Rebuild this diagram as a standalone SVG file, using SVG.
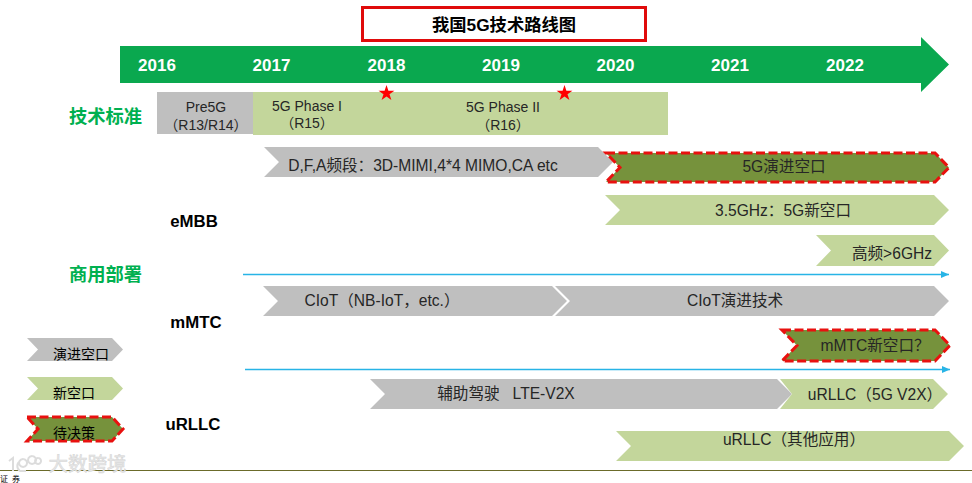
<svg xmlns="http://www.w3.org/2000/svg" width="972" height="483" viewBox="0 0 972 483">
<style>
text{font-family:"Liberation Sans","Noto Sans CJK SC",sans-serif;font-size:15.6px;fill:#262626;text-anchor:middle}
.gray{fill:#bfbfbf}.green{fill:#c3d69b}
.dash{fill:#76923c;stroke:#e8110f;stroke-width:3;stroke-dasharray:9 3.500}
.b{font-weight:bold;fill:#000;font-size:16.800px}
.yr{font-weight:bold;fill:#fff;font-size:17px}
.cat{font-weight:bold;fill:#00b050;font-size:18.300px}
.s{font-size:14px}
.lg{font-size:14px;fill:#000}
.blue{fill:none;stroke:#28b4e6;stroke-width:1.5;marker-end:url(#ah)}
.wm{fill:none;stroke:#dcdcdc;stroke-width:2}
</style>
<defs><marker id="ah" markerUnits="userSpaceOnUse" markerWidth="8" markerHeight="7" refX="8" refY="3.5" orient="auto"><path d="M0 0L8 3.5L0 7Z" fill="#28b4e6"/></marker></defs>
<rect width="972" height="483" fill="#fff"/>
<g id="timeline">
<path d="M120 46H921V37L949 64.500L921 92V83H120Z" fill="#0aa84f"/>
<text class="yr" x="157" y="71">2016</text><text class="yr" x="271.500" y="71">2017</text><text class="yr" x="386.500" y="71">2018</text><text class="yr" x="501" y="71">2019</text><text class="yr" x="615.500" y="71">2020</text><text class="yr" x="730" y="71">2021</text><text class="yr" x="845" y="71">2022</text>
</g>
<g id="title"><rect x="362.500" y="7.500" width="283" height="33" fill="#fff" stroke="#e00b0b" stroke-width="3"/><text class="b" x="504" y="31" style="font-size:17.300px">我国5G技术路线图</text></g>
<g id="standards">
<text class="cat" x="105.500" y="123">技术标准</text>
<rect x="157" y="92" width="96" height="42" class="gray"/><text class="s" x="206" y="112">Pre5G</text><text class="s" x="206" y="130">（R13/R14）</text>
<rect x="253" y="92" width="415" height="43" class="green"/><text class="s" x="307" y="111">5G Phase I</text><text class="s" x="307" y="128">（R15）</text>
<text class="s" x="503" y="112">5G Phase II</text><text class="s" x="503" y="130">（R16）</text>
<path id="star1" d="M386.500 85l1.900 5.700h6l-4.900 3.500 1.900 5.700-4.900-3.500-4.900 3.500 1.900-5.700-4.900-3.500h6Z" fill="#f00"/>
<path id="star2" d="M564.500 85l1.900 5.700h6l-4.900 3.500 1.900 5.700-4.900-3.500-4.900 3.500 1.900-5.700-4.900-3.500h6Z" fill="#f00"/>
</g>
<g id="labels">
<text class="cat" x="105.500" y="281">商用部署</text>
<text class="b" x="194" y="227">eMBB</text><text class="b" x="196" y="328">mMTC</text><text class="b" x="193" y="430">uRLLC</text>
</g>
<g id="connectors"><path class="blue" d="M243 274.500H949"/><path class="blue" d="M245 369.500H950"/></g>
<g id="n1"><path class="gray" d="M264 147H598L613 162L598 177H264L279 162Z"/><text x="423" y="171">D,F,A频段：3D-MIMI,4*4 MIMO,CA etc</text></g>
<g id="n2"><path class="dash" d="M606 153H935L949 167.500L935 182H606L620 167.500Z"/><text x="784" y="172">5G演进空口</text></g>
<g id="n3"><path class="green" d="M605 195H934L949 210L934 225H605L620 210Z"/><text x="783" y="216">3.5GHz：5G新空口</text></g>
<g id="n4"><path class="green" d="M816 235H934L949 250.500L934 266H816L831 250.500Z"/><text x="892" y="259">高频&gt;6GHz</text></g>
<g id="n5"><path class="gray" d="M263 286H552L567 301L552 316H263L278 301Z"/><text x="382" y="306">CIoT（NB-IoT，etc.）</text></g>
<g id="n6"><path class="gray" d="M555 286H934L949 301L934 316H555L570 301Z"/><text x="735" y="306">CIoT演进技术</text></g>
<g id="n7"><path class="dash" d="M782 330H935L950 345.500L935 361H782L797 345.500Z"/><text x="875" y="351">mMTC新空口？</text></g>
<g id="n8"><path class="gray" d="M370 379H777L792 394L777 409H370L385 394Z"/><text x="506" y="399" xml:space="preserve">辅助驾驶   LTE-V2X</text></g>
<g id="n9"><path class="green" d="M780 379H933L948 394L933 409H780L792 394Z"/><text x="875" y="400">uRLLC（5G V2X）</text></g>
<g id="n10"><path class="green" d="M616 431H949L964 446L949 461H616L631 446Z"/><text x="794" y="445">uRLLC（其他应用）</text></g>
<g id="legend1"><path class="gray" d="M27 338H112L123 349.500L112 361H27L38 349.500Z"/><text class="lg" x="81" y="359">演进空口</text></g>
<g id="legend2"><path class="green" d="M27 377H112L123 388.500L112 400H27L38 388.500Z"/><text class="lg" x="74" y="398">新空口</text></g>
<g id="legend3"><path class="dash" d="M27 417H112L123 429L112 441H27L38 429Z"/><text class="lg" x="74" y="438">待决策</text></g>
<g id="footer">
<path d="M0 470.500H972" stroke="#6b6b2a" stroke-width="1"/>
<path class="wm" d="M9 461l4-3v13M20 461a6 6 0 0 0 0 10h6M23 459a4 4 0 1 0 0.100 0M32 456a4 4 0 1 0 0.100 0M38 458a3 3 0 1 0 0.100 0"/>
<text x="87.500" y="471" style="font-size:19.500px;fill:#e8e8e8;stroke:#d4d4d4;stroke-width:.5">大数跨境</text>
<text x="12" y="481.500" style="font-size:8px;fill:#000;letter-spacing:4px">证券</text>
</g>
</svg>
